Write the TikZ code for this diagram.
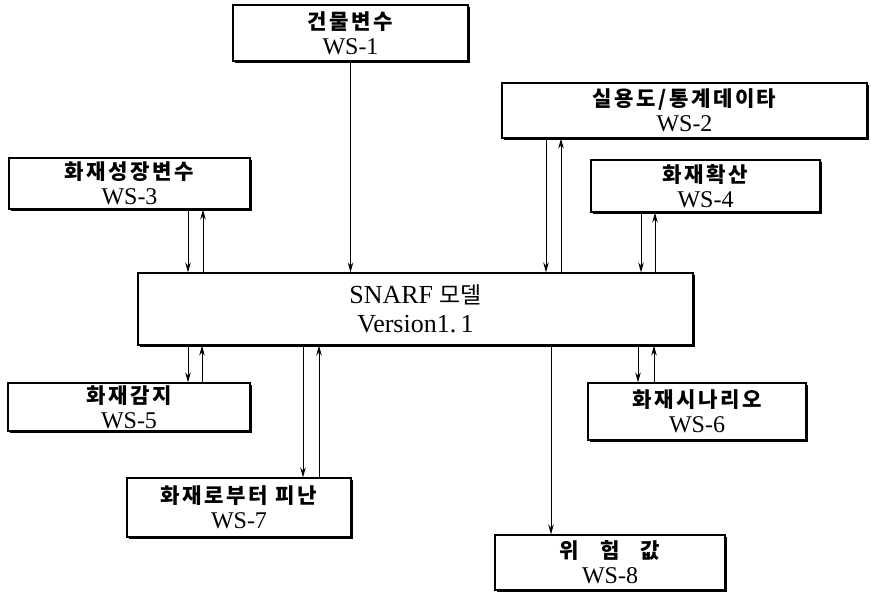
\documentclass[tikz,border=0pt]{standalone}
\usepackage{fontspec}
\setmainfont{Liberation Serif}
\newfontfamily\kr{Noto Sans CJK KR}[Scale=0.88,LetterSpace=12]
\newfontfamily\krplain{Noto Sans CJK KR}[Scale=0.88]
\usetikzlibrary{arrows.meta,shadows}
\tikzset{x=1pt,y=-1pt,
  wsbox/.style={draw,line width=1.2pt,fill=white,inner sep=0pt,align=center,
    font=\fontsize{24}{25}\selectfont,
    drop shadow={shadow xshift=2pt,shadow yshift=-2pt,opacity=1,fill=black}},
  flow/.style={line width=1pt,-{Stealth[length=10pt,width=5.5pt]}}}

\begin{document}
\begin{tikzpicture}
    \useasboundingbox (0,0) rectangle (871,597);
    \node[wsbox,minimum width=555,minimum height=72,font=\fontsize{26}{29}\selectfont] (snarf) at (415.5,309)
        {SNARF {\krplain 모델}\\Version1.\,1};
    \node[wsbox,minimum width=235,minimum height=56] (ws1) at (350.5,33) {{\kr\bfseries 건물변수}\\WS-1};
    \node[wsbox,minimum width=365,minimum height=55] (ws2) at (684.5,110.5) {{\kr\bfseries 실용도/통계데이타}\\WS-2};
    \node[wsbox,minimum width=241,minimum height=51] (ws3) at (129.5,183.5) {{\kr\bfseries 화재성장변수}\\WS-3};
    \node[wsbox,minimum width=229,minimum height=52] (ws4) at (705.5,186) {{\kr\bfseries 화재확산}\\WS-4};
    \node[wsbox,minimum width=242,minimum height=48] (ws5) at (129,407) {{\kr\bfseries 화재감지}\\WS-5};
    \node[wsbox,minimum width=218,minimum height=57] (ws6) at (697,411.5) {{\kr\bfseries 화재시나리오}\\WS-6};
    \node[wsbox,minimum width=224,minimum height=59] (ws7) at (239,507.5) {{\kr\bfseries 화재로부터 피난}\\WS-7};
    \node[wsbox,minimum width=230,minimum height=55] (ws8) at (610,562.5) {{\kr\bfseries 위\quad 험\quad 값}\\WS-8};
    % inputs from above
    \draw[flow] (ws1.south) -- (ws1.south |- snarf.north);
    \draw[flow] ([xshift=-138.5pt]ws2.south) -- ([xshift=-138.5pt]ws2.south |- snarf.north);
    \draw[flow] ([xshift=-123.5pt]ws2.south |- snarf.north) -- ([xshift=-123.5pt]ws2.south);
    \draw[flow] ([xshift=58.5pt]ws3.south) -- ([xshift=58.5pt]ws3.south |- snarf.north);
    \draw[flow] ([xshift=73.5pt]ws3.south |- snarf.north) -- ([xshift=73.5pt]ws3.south);
    \draw[flow] ([xshift=-64.5pt]ws4.south) -- ([xshift=-64.5pt]ws4.south |- snarf.north);
    \draw[flow] ([xshift=-50.5pt]ws4.south |- snarf.north) -- ([xshift=-50.5pt]ws4.south);
    % outputs below
    \draw[flow] ([xshift=59pt]ws5.north |- snarf.south) -- ([xshift=59pt]ws5.north);
    \draw[flow] ([xshift=73pt]ws5.north) -- ([xshift=73pt]ws5.north |- snarf.south);
    \draw[flow] ([xshift=-59pt]ws6.north |- snarf.south) -- ([xshift=-59pt]ws6.north);
    \draw[flow] ([xshift=-43pt]ws6.north) -- ([xshift=-43pt]ws6.north |- snarf.south);
    \draw[flow] ([xshift=64pt]ws7.north |- snarf.south) -- ([xshift=64pt]ws7.north);
    \draw[flow] ([xshift=80pt]ws7.north) -- ([xshift=80pt]ws7.north |- snarf.south);
    \draw[flow] ([xshift=-59pt]ws8.north |- snarf.south) -- ([xshift=-59pt]ws8.north);
\end{tikzpicture}
\end{document}
